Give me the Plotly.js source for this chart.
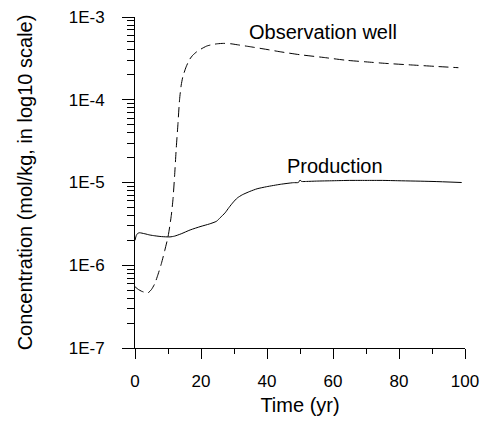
<!DOCTYPE html>
<html>
<head>
<meta charset="utf-8">
<script src="https://cdn.plot.ly/plotly-3.0.1.min.js"></script>
<style>html,body{margin:0;padding:0;background:#fff;}#chart{width:485px;height:421px;}</style>
</head>
<body>
<div id="chart"></div>
<script>
// Observation well (dashed)
var obsTime = [0, 1, 2, 3, 4, 5, 6, 7, 8, 9, 10, 10.5, 11, 11.5, 12, 12.5, 13, 13.5, 14, 14.5, 15.5, 16.5, 17.5, 18.7, 20, 21.7, 23.5, 25, 26.8, 29, 31, 34.8, 40, 44, 50, 57, 64, 70, 76, 84, 91, 98];
var obsConc = [5.5e-7, 5.1e-7, 4.85e-7, 4.7e-7, 4.66e-7, 5.1e-7, 6.0e-7, 7.8e-7, 1.05e-6, 1.5e-6, 2.2e-6, 2.9e-6, 4.0e-6, 6.2e-6, 1.2e-5, 2.6e-5, 5.0e-5, 1.0e-4, 1.5e-4, 1.9e-4, 2.5e-4, 3.05e-4, 3.45e-4, 3.8e-4, 4.1e-4, 4.45e-4, 4.65e-4, 4.75e-4, 4.8e-4, 4.75e-4, 4.62e-4, 4.38e-4, 4.05e-4, 3.8e-4, 3.5e-4, 3.25e-4, 3.0e-4, 2.87e-4, 2.75e-4, 2.63e-4, 2.53e-4, 2.44e-4];
// Production (solid)
var prodTime = [0, 0.4, 0.8, 1.3, 3, 4.5, 6, 8, 10.6, 12, 14, 16.7, 20, 22.5, 24.7, 25.8, 27.3, 28.5, 29.8, 31, 32.5, 34.8, 37, 39.9, 44, 48, 49.5, 50, 50.5, 52, 55, 60, 65, 70, 75, 80, 90, 99];
var prodConc = [2.0e-6, 2.3e-6, 2.42e-6, 2.47e-6, 2.4e-6, 2.32e-6, 2.27e-6, 2.22e-6, 2.2e-6, 2.25e-6, 2.4e-6, 2.67e-6, 2.95e-6, 3.15e-6, 3.4e-6, 3.75e-6, 4.3e-6, 5.0e-6, 5.8e-6, 6.5e-6, 7.1e-6, 7.8e-6, 8.4e-6, 8.9e-6, 9.5e-6, 9.95e-6, 1.0e-5, 1.07e-5, 1.03e-5, 1.03e-5, 1.04e-5, 1.05e-5, 1.06e-5, 1.06e-5, 1.06e-5, 1.05e-5, 1.03e-5, 1.0e-5];
// Tick labels (y decades): Plotly's default label text -> wanted text
var yTickDefault = ["100n", "1\u03bc", "10\u03bc", "100\u03bc", "0.001"];
var yTickText = ["1E-7", "1E-6", "1E-5", "1E-4", "1E-3"];

var alias = {};
for (var i = 0; i < yTickDefault.length; i++) {
  alias[yTickDefault[i]] = yTickText[i];
  alias[yTickDefault[i].replace('\u03bc', '\u00b5')] = yTickText[i];
}

var font = "'Liberation Sans', Arial, sans-serif";
var traces = [
  {x: obsTime, y: obsConc, mode: 'lines', type: 'scatter', line: {color: 'black', width: 1, dash: '10px,5px', shape: 'spline', smoothing: 0.6}, hoverinfo: 'skip'},
  {x: prodTime, y: prodConc, mode: 'lines', type: 'scatter', line: {color: 'black', width: 1, shape: 'spline', smoothing: 0.6}, hoverinfo: 'skip'},
  // empty trace that only carries the tick-mark axes
  {x: [], y: [], xaxis: 'x2', yaxis: 'y2', mode: 'lines', hoverinfo: 'skip', showlegend: false}
];
var layout = {
  width: 485, height: 421,
  margin: {l: 135, r: 20, t: 17, b: 73},
  paper_bgcolor: 'white', plot_bgcolor: 'white',
  showlegend: false,
  font: {family: font, color: 'black', size: 17},
  // label axes
  xaxis: {
    range: [0, 100], showgrid: false, zeroline: false,
    showline: true, linecolor: 'black',
    tickmode: 'linear', tick0: 0, dtick: 20,
    ticks: 'outside', ticklen: 10, tickcolor: 'rgba(0,0,0,0)',
    ticklabelstandoff: 8,
    tickfont: {size: 17},
    title: {text: 'Time (yr)', font: {size: 20}, standoff: 7}
  },
  yaxis: {
    type: 'log', range: [-7, -3], showgrid: false, zeroline: false,
    showline: true, linecolor: 'black',
    tickmode: 'linear', tick0: 0, dtick: 1,
    labelalias: alias,
    ticks: 'outside', ticklen: 12, tickcolor: 'rgba(0,0,0,0)',
    ticklabelstandoff: 14,
    tickfont: {size: 17},
    title: {text: 'Concentration (mol/kg, in log10 scale)', font: {size: 20}, standoff: 30}
  },
  // tick-mark axes (no labels)
  xaxis2: {
    overlaying: 'x', side: 'bottom', anchor: 'y2', range: [0, 100],
    showgrid: false, zeroline: false, showline: false, showticklabels: false,
    tickmode: 'linear', tick0: 0, dtick: 20,
    ticks: 'outside', ticklen: 10, tickcolor: 'black',
    minor: {tickmode: 'linear', tick0: 0, dtick: 10, ticks: 'outside', ticklen: 5, tickcolor: 'black'}
  },
  yaxis2: {
    overlaying: 'y', side: 'left', anchor: 'x2', type: 'log', range: [-7, -3],
    showgrid: false, zeroline: false, showline: false, showticklabels: false,
    tickmode: 'linear', tick0: 0, dtick: 1,
    ticks: 'outside', ticklen: 12, tickcolor: 'black',
    minor: {dtick: 'D1', ticks: 'outside', ticklen: 7, tickcolor: 'black'}
  },
  annotations: [
    {x: 57, y: -3.18, xref: 'x', yref: 'y', text: 'Observation well', showarrow: false, xanchor: 'center', yanchor: 'middle', font: {size: 20}},
    {x: 60.6, y: -4.80, xref: 'x', yref: 'y', text: 'Production', showarrow: false, xanchor: 'center', yanchor: 'middle', font: {size: 20}}
  ]
};
Plotly.newPlot('chart', traces, layout, {staticPlot: true, displayModeBar: false});
</script>
</body>
</html>
